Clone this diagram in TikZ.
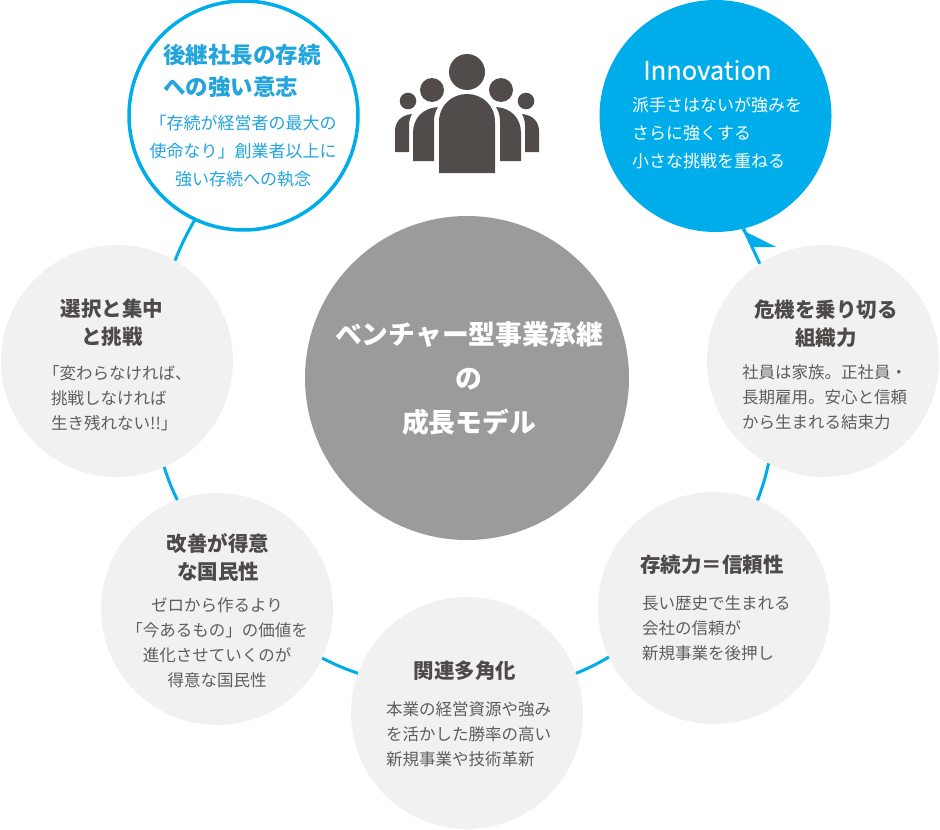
\documentclass[tikz,border=0pt]{standalone}
\usepackage{fontspec}
\setmainfont{Noto Sans CJK JP}
\newfontfamily\innfont[FakeBold=0.3]{Noto Sans CJK JP}
\usetikzlibrary{arrows.meta}
\definecolor{skyb}{HTML}{00ADEB}
\definecolor{skyt}{HTML}{22A4DC}
\definecolor{pale}{HTML}{F1F1F1}
\definecolor{midg}{HTML}{9C9B9B}
\definecolor{icong}{HTML}{514C4A}
\definecolor{headg}{HTML}{4D4A49}
\definecolor{bodyg}{HTML}{5E5E5E}
\tikzset{
  disc/.style={circle,inner sep=0pt,outer sep=0pt,minimum size=232pt,fill=pale},
  link/.style={draw=skyb,line width=3pt},
  head/.style={inner sep=0pt,text=headg,align=center,font=\fontsize{20.5}{28}\selectfont\bfseries},
  body/.style={inner sep=0pt,text=bodyg,align=left,font=\fontsize{16.5}{25}\selectfont},
  bodywide/.style={body,font=\fontsize{17}{28}\selectfont},
}
\begin{document}
\begin{tikzpicture}[x=1pt,y=-1pt]
\useasboundingbox (0,0) rectangle (940,830);
% discs
\node[disc,minimum size=162*2pt,fill=midg] (core) at (467,378) {};
\node[disc,fill=white,draw=skyb,line width=3.5pt,minimum size=229pt] (tl) at (243.5,115.5) {};
\node[disc,fill=skyb] (inn) at (715.5,116) {};
\node[disc] (sel) at (117,361) {};
\node[disc] (kiki) at (823,361) {};
\node[disc] (kai) at (217,609) {};
\node[disc] (son) at (714,608) {};
\node[disc] (kan) at (467,713) {};
% connectors
\draw[link] (tl.245) to[bend right=4] (sel.60);
\draw[link] (sel.-66) to[bend right=4] (kai.110);
\draw[link] (kai.-25) to[bend right=4] (kan.160);
\draw[link] (kan.20) to[bend right=4] (son.205);
\draw[link] (son.68.5) to[bend right=4] (kiki.242);
\draw[link] (kiki.123) -- (inn.-76);
\coordinate (tipa) at (742,230);
\coordinate (tipb) at (776,247);
\coordinate (tipc) at (753,247);
\fill[skyb] (tipa) -- (tipb) -- (tipc) -- cycle;
% icon
\fill[icong] (467,72) circle (18);
\fill[icong] (432,90) circle (12);
\fill[icong] (501,90) circle (12);
\fill[icong] (408,101) circle (8.3);
\fill[icong] (526,101) circle (8.3);
\fill[icong] (439,173) -- (439,122) .. controls (439,105) and (452,94) .. (467,94) .. controls (482,94) and (495,105) .. (495,122) -- (495,173) -- cycle;
\fill[icong] (413,161) -- (413,133) .. controls (413,118) and (423,108) .. (438,107) .. controls (435,112) and (434,116) .. (434,122) -- (434,161) -- cycle;
\fill[icong] (521,161) -- (521,133) .. controls (521,118) and (511,108) .. (496,107) .. controls (499,112) and (500,116) .. (500,122) -- (500,161) -- cycle;
\fill[icong] (395,152) -- (395,131) .. controls (395,122) and (401,115) .. (412,114) .. controls (410,118) and (409,121) .. (409,126) -- (409,152) -- cycle;
\fill[icong] (539,152) -- (539,131) .. controls (539,122) and (533,115) .. (522,114) .. controls (524,118) and (525,121) .. (525,126) -- (525,152) -- cycle;
% texts
\node[head,anchor=west,align=left,text=skyt,font=\fontsize{22.5}{32}\selectfont\bfseries] (tlh) at (163,71) {後継社長の存続\\への強い意志};
\node[bodywide,anchor=center,align=center,text=skyt] (tlb) at (243,151) {「存続が経営者の最大の\\使命なり」創業者以上に\\強い存続への執念};
\node[head,anchor=west,text=white,font=\fontsize{25.5}{28}\selectfont\innfont] (innh) at (643,70) {Innovation};
\node[bodywide,anchor=west,text=white] (innb) at (632,133) {派手さはないが強みを\\さらに強くする\\小さな挑戦を重ねる};
\node[head] (selh) at (112,323) {選択と集中\\と挑戦};
\node[body,anchor=west] (selb) at (51,398) {\hspace{-8pt}「変わらなければ、\\挑戦しなければ\\生き残れない!!」};
\node[head] (kaih) at (218,557) {改善が得意\\な国民性};
\node[body,anchor=center,align=center] (kaib) at (217,642.5) {ゼロから作るより\\「今あるもの」の価値を\\進化させていくのが\\得意な国民性};
\node[head] (kanh) at (465,671) {関連多角化};
\node[body,anchor=west] (kanb) at (386,734) {本業の経営資源や強み\\を活かした勝率の高い\\新規事業や技術革新};
\node[head,anchor=west] (sonh) at (640,565) {存続力＝信頼性};
\node[body,anchor=west] (sonb) at (642,628) {長い歴史で生まれる\\会社の信頼が\\新規事業を後押し};
\node[head] (kikih) at (826,323.5) {危機を乗り切る\\組織力};
\node[body,anchor=west] (kikib) at (742,397) {社員は家族。正社員・\\長期雇用。安心と信頼\\から生まれる結束力};
\node[head,text=white,font=\fontsize{26.8}{44}\selectfont\bfseries] (coret) at (469,378) {ベンチャー型事業承継\\の\\成長モデル};
\end{tikzpicture}
\end{document}
